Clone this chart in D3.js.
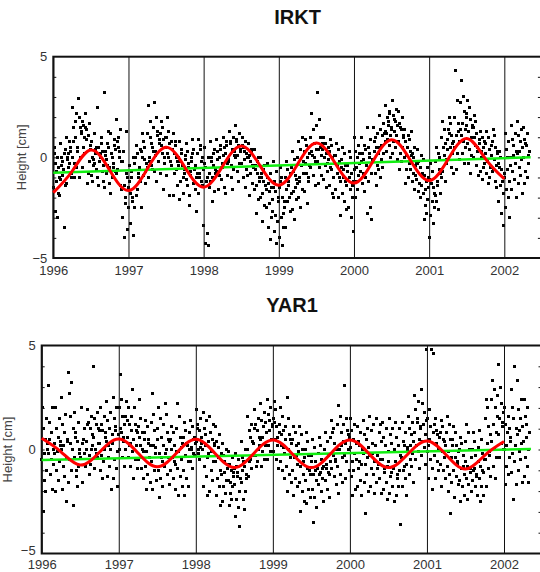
<!DOCTYPE html>
<html>
<head>
<meta charset="utf-8">
<script src="https://cdn.jsdelivr.net/npm/d3@7"></script>
<style>
  body { margin: 0; background: #fff; }
  svg { display: block; }
</style>
</head>
<body>
<div id="chart"></div>
<script>
// daily height residuals, one array per month (values in cm)
const irkt1996 = [
  [-1.5,0.5,0.2,-0.3,-2.7,-1.2,-0.7,-3,0,-1.8,-0.5,-1],
  [-1.9,0.7,-1.1,-0.4,0,-0.2,-0.9,-0.6,0.2,-3.5,0.4,-1.4],
  [-1.3,1,-0.1,0,-0.5,0.2,-0.3,0.8,0.5,0.3,-1,-0.8],
  [0,2.5,0.8,1.5,-1,-0.3,1,1.8,2.2,-0.5,0.3,0.5,2.9],
  [2.9,2,-1,1.5,0,1.3,1.2,-0.5,1.8,0.5,1.6,1],
  [0.2,2.2,1.5,1.4,0.9,-1.3,1.1,-0.8,1.7,-0.2,0.4,0.6],
  [-0.9,0.8,-1.2,0,-0.1,-0.4,-0.3,1.2,0.4,0.2,0.5,-0.6],
  [-1,2.5,-1.4,0.5,-0.2,0.2,0,0.7,1,0.3,-0.7,-0.4],
  [-1.2,3.2,-1.5,0.3,0.1,-0.8,-0.1,-0.4,0.7,1.3,0.5,-0.5],
  [-1.3,1.2,-1.8,0.2,0,-1,-0.3,-0.5,0.6,0.9,0.4,-0.7],
  [-0.8,1.9,-0.6,0.8,1,0.5,0.3,0,1.4,-1.4,-1.6,-0.2],
  [-3,-0.2,0.3,-1.4,-4,-2.3,-2,1.3,-0.8,-3.6,-1,-2.5]
]
const irkt1997 = [
  [-1.5,-1.2,-0.4,-1.8,-3.3,-1,-0.7,-2,-2.2,-3.9,0,-2.5],
  [-0.3,0,0.6,-1.9,-1.6,0.2,-1,-0.8,-0.6,-0.5,0.4,-1.2],
  [0.3,-2.5,1.2,0,-0.9,0.8,0.5,-0.1,-0.7,-1.3,-0.3,-0.5],
  [1.2,-1,2.6,0,-0.2,1.8,1,0.7,-0.4,-0.6,0.5,0.3],
  [1.5,-0.7,2.7,0.1,0.3,2,-1.2,1.1,1.3,-0.2,0.9,0.7],
  [1.2,-0.8,1.8,0.6,0.2,1.5,-1.6,0.9,0,-0.3,1,0.5],
  [1,-0.9,2,0.2,0,1.3,-1.9,0.7,-0.2,-0.4,0.8,0.4],
  [0.4,-1.9,1.2,0.2,-0.8,0.8,0.6,0,-0.6,-1.4,-0.2,-0.4],
  [0,-2.1,0.8,-0.2,-1.2,0.4,0.2,-0.4,-1,-1.8,-0.6,-0.8],
  [-0.1,0.1,0.7,-1.1,-1.4,0.3,-0.3,-0.5,-1.9,-2.4,-0.7,-0.9],
  [0,-0.2,0.9,0.2,-1.3,0.4,-0.6,-0.4,-1.6,-2.7,-1,-0.8],
  [0.2,-1.8,0.9,-0.8,-1,0.6,0.4,-0.2,-1.2,-1.4,0,-0.6]
]
const irkt1998 = [
  [-3.4,0.5,-0.3,-0.5,-4.3,-1.2,-1,-3.8,0,-4.4,-0.8,-1.5],
  [-1.2,0.8,-0.2,0,-2.2,-1,-0.4,0.2,0.4,-1.7,-0.6,-0.8],
  [-0.7,0.9,-0.1,0.3,-1.6,-0.9,0,0.4,0.6,-1.1,-0.5,-0.3],
  [-0.5,1,0.1,0.5,-1.5,-1.8,0.2,0.6,0.8,-0.9,-0.3,-0.1],
  [-0.2,1.3,0.8,0.7,-1,-0.4,0.4,-1.6,1,-0.6,0.3,0.1],
  [0,1.6,0.8,0.9,-0.7,0.1,0.6,-1.2,1.2,-0.3,0.4,0.3],
  [-0.3,1,0.6,0.5,-1,-0.1,0.3,-1.5,0.8,-0.6,0.2,0],
  [-0.9,0.7,0,0.1,-1.9,-0.8,-0.2,0.3,0.4,-1.3,-0.4,-0.5],
  [-1.6,0.4,-0.6,-0.4,-2.8,-1.4,-0.8,-0.2,0,-2.1,-1,-1.2],
  [-2,0,-1,-0.8,-3.2,-1.8,-1.2,-0.6,-0.4,-2.4,-1.4,-1.6],
  [-2.5,-0.3,-1,-1.3,-3.5,-2.3,-1.7,-4.1,-0.8,-3,-1.5,-2.1],
  [-2.7,-0.2,-1.5,-1.2,-3.7,-2.9,-1.7,-4.3,-0.7,-3.2,-2,-2.2]
]
const irkt1999 = [
  [-1.5,-4,-0.5,-1.2,-3,-1,-4.4,-2,-2.8,-3.5,-2.2,-2.5],
  [-1,-3.5,-0.2,-1.6,-2.2,-0.6,-1.2,-1.4,-2,-2.7,-0.8,-1.8],
  [-0.5,-2.6,0.3,-0.7,-1.7,-0.1,-3.1,-0.9,-1.5,-2.1,-1.1,-1.3],
  [0,-2,0.8,-1,-1.2,0.4,-2.5,-0.4,1,-1.6,-0.2,-0.8],
  [0.3,-1.7,0.9,-0.3,-0.8,0.6,-2.3,0,-1,-1.2,0.2,-0.4],
  [1,-0.5,2.2,0.3,0.1,1.4,-0.9,0.7,0,-0.2,-1.4,0.4],
  [1.6,-0.2,3.2,-1.3,0.4,1.9,-0.5,1,0.5,0.1,-0.9,0.7],
  [0.4,-1.1,1,0,-0.4,0.7,-1.5,0.2,-0.3,-0.7,0.5,-0.1],
  [0.3,-1.4,0.9,-0.5,-0.6,0.6,-1.8,0,-2,-1,0.1,-0.3],
  [0.1,-1.6,0.7,-0.4,-0.8,0.4,-2,-0.2,-1,-1.2,-2.9,-0.5],
  [-0.1,-1.8,0.5,-0.6,-1,0.2,-2.2,-0.4,-1.2,-1.4,-2.6,-0.7],
  [-0.4,-2.5,0.3,-1,-1.6,0,-3,-0.8,-1.4,-2,-3.7,-1.2]
]
const irkt2000 = [
  [-0.6,1,-2,0.3,-1.2,-0.5,0,-1.6,0.6,-0.9,0.2,-0.3],
  [-0.7,1,-0.2,0.2,-1.3,-0.8,-0.1,-1.7,0.6,-1,0.4,-0.4],
  [-0.4,1.5,-2.8,0.5,-1.2,0,0.2,-2.5,0.9,-0.8,-3.1,-0.1],
  [-0.1,1.5,0.3,0.8,-0.8,1,0.5,-1.4,1.2,-0.4,-0.6,0.2],
  [0.5,2.1,-1,1.4,-0.1,0.6,1.1,-0.5,1.7,0.2,1.2,0.8],
  [1.3,2.6,0.3,1.2,2,0.9,1.6,1.8,0.6,2.2,2.3,1.1,0,1.5],
  [1.4,2.8,0.2,2.1,0.8,1.3,1.9,1.8,0.5,2.4,1.1,-0.1,1.6],
  [0.8,2.3,-0.6,1.7,0.2,1.5,1.4,-0.2,2,0.5,1,1.1],
  [0,1.4,-1.3,0.8,-0.6,0.1,0.5,-1,1.1,-0.3,0.9,0.3],
  [-0.6,1.3,0.1,0.2,-1.2,-0.8,0,-1.6,0.5,-0.9,-0.4,-0.3],
  [-1.1,0.4,-0.3,-0.2,-1.7,-1.3,-0.5,-2,0.1,-1.4,-0.9,-0.8],
  [-1.8,-0.1,-3.1,-0.9,-2.4,-1.6,-1.2,-2.8,-0.5,-2.1,-1,-1.5]
]
const irkt2001 = [
  [-4,-1.1,-2.9,-0.3,-1.3,-2.2,-0.7,-3.3,-1.5,-1.8,-2.5,-1.9],
  [-0.2,-2.2,0.5,-1.2,-1.4,0.2,-2.6,-0.6,0,-1.8,-0.8,-1],
  [1,-0.7,1.8,0.5,0.1,1.4,-1.2,0.7,-0.1,-0.3,0.9,0.4],
  [1.4,-0.1,2,1.2,0.5,1.7,-0.5,1.1,0.7,0.2,-0.8,0.8],
  [2,0.5,4.3,-0.6,1.1,2.8,0.2,1.7,1.3,0.8,-0.1,1.4],
  [2.7,1.1,3.8,0.2,1.7,3,0.8,2.3,-0.3,1.4,0.5,2,1.6],
  [2.2,0.7,2.8,-0.3,1.3,2.5,0.4,1.9,-0.8,1,0.1,1.6,1.5],
  [1.5,0,2.1,1,0.6,1.8,-0.4,1.2,0.5,0.3,-0.9,0.9],
  [0.7,-0.7,1.3,0.3,0,1,-1.1,0.5,-0.5,-0.3,0.8,0.2],
  [0.7,-0.8,1.3,-0.1,-0.2,1,-1.3,0.4,-1,-0.5,0.6,0.1],
  [0.8,-0.7,1.4,-0.6,-0.1,1.1,-1.2,0.5,-1.5,-0.4,0.3,0.2],
  [-0.3,-2.2,0.3,-0.5,-1.4,0,-2.8,-0.6,-1.2,-1.8,-3.4,-1]
]
const irkt2002 = [
  [-0.8,1.2,-2.5,0.4,-1.6,-0.6,0,-2,0.8,-1.2,-3,-0.4],
  [0,1.6,-1.6,0.9,-0.7,0.1,0.6,-1.1,1.2,-0.3,-2,0.3],
  [0.2,1.8,-1.3,1.1,-0.5,0.3,0.8,-0.9,1.4,-0.1,-1.8,0.5],
  [0,1.5,-1.3,0.9,-0.7,0.7,0.6,-1,1.2,-0.3,0.1,0.3]
]

const yar1996 = [
  [-0.5,2,-3,1,-1.5,-0.2,0.5,-2,1.5,-1,0.3,0],
  [-0.2,3.1,0.5,1.3,-1.2,-0.5,0.8,-1.9,2,-0.7,0,0.3],
  [-0.2,2,-2,1,-1,-0.1,0.6,-1.5,1.5,-0.6,0.4,0.2],
  [0,2.5,-1.9,1.2,-0.8,0.2,0.8,-1.3,1.7,-0.4,-2.5,0.4],
  [0.5,3.7,-1.6,2.7,-0.5,0.3,1.6,-1,3.2,0,-2.7,1],
  [-0.4,1.8,0.6,0.8,-1.3,-1,0.4,-1.8,1.3,-0.8,-0.2,0],
  [-0.4,2,0.3,-1.6,0.5,-0.2,1,-0.8,0],
  [0.4,1.9,1.2,1.3,-0.3,-1.2,1,-0.7,1.6,0,0.2,0.7],
  [0.6,4,-0.9,1.5,0,-0.2,1.2,-0.4,1.8,0.3,1,0.9],
  [0.3,2,-1,1.2,-0.3,-1.4,0.9,-0.6,1.6,0,0.8,0.6],
  [0.4,2.3,-1.3,1.4,-0.4,0.2,1,-0.8,1.8,0,-1.9,0.7],
  [0.3,2.5,-1.4,1.5,-0.5,0.9,1.1,-0.9,2,-0.1,-1.8,0.7]
]
const yar1997 = [
  [2,0,3.6,1,0.8,2.4,-0.4,1.6,0.6,0.4,-0.8,1.2],
  [1.6,0,2.3,1.4,0.6,2,-0.4,1.2,0.2,0.3,-0.8,0.9],
  [1.6,-0.1,2.9,-1.4,0.5,2,-0.5,1.2,0.9,0.2,-0.9,0.8],
  [1.1,-0.5,2.4,0.6,0.2,1.5,-0.9,0.8,0,-0.1,-1.4,0.5],
  [0.8,-0.8,1.4,-1.9,-0.1,1.1,-1.2,0.5,0.3,-0.4,-1.6,0.2],
  [1.3,-0.6,2.7,-1.9,0.2,1.7,-1,0.9,0.1,-0.2,-1.5,0.5],
  [1,-1,2,-2.3,-0.2,1.5,-1.4,0.6,-0.4,-0.6,-1.8,0.2],
  [1.2,-0.8,2.2,-0.2,0,1.7,-1.2,0.8,0.5,-0.4,-1.7,0.4],
  [0.5,-1,1.1,0,-0.4,0.8,-1.4,0.2,-0.6,-0.7,-1.9,-0.1],
  [1,-0.9,2.2,-2.2,-0.1,1.6,-1.3,0.6,0.1,-0.5,-1.8,0.3],
  [0.6,-1,1.3,-2.2,-0.3,0.9,-1.4,0.3,0.2,-0.6,-1.8,0],
  [0.8,-0.6,1.4,0.1,0,1.1,-0.9,0.5,-0.2,-0.3,0.6,0.3]
]
const yar1998 = [
  [0.4,1.9,1,1.2,-0.2,0,0.9,-0.5,1.5,0.1,0.3,0.6],
  [0,1.8,-1.8,1,-0.8,0.2,0.7,-1.3,1.4,-0.4,-2.2,0.4],
  [-0.2,1.6,-2,0.8,-1,-0.1,0.5,-1.5,1.2,-0.6,0.3,0.2],
  [-0.6,1.1,-2.2,0.4,-1.4,-0.4,0.1,-1.8,0.7,-1,-2.7,-0.2],
  [-1.2,0.3,-2.5,-0.3,-1.8,-1.1,-0.6,-2.1,0,-1.5,-0.7,-0.9],
  [-1.5,-0.1,-2.7,-0.7,-2.1,-1.6,-1,-2.4,-0.4,-1.8,-1.1,-1.3,-0.9],
  [-1.7,-0.2,-3.2,-0.8,-2.4,-1.3,-1.1,-2.8,-0.5,-2,-3.7,-1.4],
  [-1.6,0.4,-1,-0.4,-2.4,-0.6,-0.8,-2.9,0,-2,-1.4,-1.2],
  [0,1.6,-1.3,0.9,-0.6,-0.5,0.6,-0.9,1.2,-0.3,0.4,0.3],
  [0.3,1.9,1,1.2,-0.3,-0.8,0.9,-0.6,1.5,0,0.2,0.6],
  [0.5,2.2,-0.8,1.4,-0.1,0.6,1.1,-0.5,1.8,0.2,1.3,0.8],
  [0.8,2.4,-0.5,1.7,0.2,0.9,1.4,-0.1,2,0.5,1.2,1.1]
]
const yar1999 = [
  [1.5,-0.1,2.3,1.3,0.5,1.9,-0.5,1.1,0.6,0.2,-0.9,0.8],
  [1.2,-0.6,2,0.7,0.2,1.6,-1,0.9,0.1,-0.2,-1.4,0.5],
  [1.1,-0.8,2.5,-2,0,1.5,-1.2,0.7,0.5,-0.4,-1.6,0.3],
  [0.5,-1,1.1,-2.2,-0.4,0.8,-1.4,0.2,-0.3,-0.7,-1.8,-0.1],
  [0.3,-1.6,1.1,-3,-0.8,0.7,-2,0,-0.6,-1.2,-2.5,-0.4],
  [0,-1.5,0.8,-2.6,-0.9,0.4,-1.9,-0.3,-1,-1.2,-2.3,-0.6],
  [-0.3,-1.9,0.5,-3.5,-1.2,0.1,-2.3,-0.6,-1,-1.5,-2.8,-0.9],
  [-0.2,-1.7,0.6,-1.2,-1.1,0.2,-2,-0.5,-0.9,-1.4,-2.5,-0.8],
  [0,-1.5,0.8,-0.7,-0.9,0.4,-1.9,-0.3,-1.1,-1.2,-2.3,-0.6],
  [0.6,-0.9,1.4,0.8,-0.3,1,-1.3,0.3,-0.5,-0.6,-1.7,0],
  [1.2,-0.8,2.1,-2.1,0,1.6,-1.2,0.8,0.2,-0.4,-1.6,0.4],
  [1.2,-0.3,3.1,-1.4,0.3,1.5,-0.6,0.9,0.7,0,-1,0.6]
]
const yar2000 = [
  [0.1,1.5,-1.3,0.9,-0.6,-2.2,0.5,-1,1.2,-0.2,-1.9,0.3],
  [-0.5,1.1,-1.8,0.4,-0.9,-0.6,0.2,-1.5,0.8,-0.7,-2.2,0],
  [-0.2,1.4,-1.6,0.7,-0.7,-3.1,0.5,-1.2,1,-0.4,-2,0.1],
  [-0.3,1.6,-1.8,0.9,-0.9,-0.2,0.3,-1.2,1.2,-0.6,-2.1,0.2],
  [0.2,1.5,-1.6,-0.3,-0.9,-0.7,0.8,-1.4,1.2,-0.5,-2.1,0.4],
  [-0.5,1.3,-1.9,0.6,-1.1,-0.9,0.2,-1.6,1,-0.8,-2.4,-0.1],
  [-0.6,1.5,-2.1,0.7,-1.3,-1.1,0.3,-1.8,1,-0.9,-2.5,0],
  [-0.6,1.3,-2.2,0.6,-1.4,-1.2,0.2,-1.8,1,-1,-3.6,-0.3],
  [-0.4,1.3,-1.8,0.4,-1,-0.8,0.2,-1.4,0.8,-0.7,-2.2,0],
  [0.1,1.6,-1.2,1,-0.5,0.2,0.7,-0.8,1.3,-0.2,-1.6,0.4],
  [0.8,2.6,-0.5,1.9,0.2,1.3,1.5,-0.1,2.3,0.5,-0.9,1.1],
  [1,2.9,-0.3,2.2,0.4,1.2,1.8,0.1,0.7,-0.7,1.4,4.8]
]
const yar2001 = [
  [1.5,-0.1,0.2,-1.4,0.5,1.9,-0.5,1.1,4.8,-1.9,-0.9,0.8],
  [4.6,1.2,-0.3,1.5,-1.4,0.3,0.9,-0.6,0.7,0,-1,0.6],
  [0.8,-0.7,1.4,-1.8,-0.1,1.1,-1,0.5,0.4,-0.4,-1.4,0.2],
  [0.8,-0.8,1.6,-2,-0.1,1.2,-1.2,0.5,-3.1,-0.4,-1.6,0.2],
  [0.5,-1,1.1,-2.3,-0.4,0.8,-1.3,0.2,-0.6,-0.7,-1.7,-0.1],
  [0,-1.5,0.6,-2.5,-0.9,0.3,-1.8,-0.3,-0.8,-1.2,-2.2,-0.6],
  [0.4,-1.4,1.2,-2.4,-0.8,0.8,-1.7,0,-0.9,-1.1,-2,-0.4],
  [0,-1.5,0.8,-1,-0.9,0.4,-1.8,-0.3,-1.3,-1.2,-2.2,-0.6],
  [0.1,-1.4,0.9,-2.5,-0.8,0.5,-1.8,-0.2,-1,-1.1,-2.2,-0.5],
  [1.5,-0.5,2.4,-1.8,0.3,2,-0.9,1.1,-0.3,-0.1,-1.3,0.7],
  [2.4,0.4,3.3,-0.8,1.2,2.9,0,2,-1.4,0.8,-0.4,1.6],
  [2.6,0.7,4.1,-0.4,1.5,3,0.3,2.2,1.3,1.1,0,1.8]
]
const yar2002 = [
  [0,2,-1.7,1.2,-0.8,0.2,0.8,-1.2,1.6,-0.4,1,0.4],
  [0.6,2.9,-1.1,2,-0.2,-2.4,1.5,-0.6,4,0.2,-1.7,1],
  [0.7,3.3,-1,1.9,-0.1,0.9,1.5,-0.5,2.4,0.3,-1.6,1.1],
  [0.4,2.4,-1.3,1.6,-0.4,0.6,1.2,-0.8,2,0,-1.6,0.8]
]

// annual fit (red), sampled each quarter year
const fitTimes = [1996,1996.25,1996.5,1996.75,1997,1997.25,1997.5,1997.75,1998,1998.25,1998.5,1998.75,
  1999,1999.25,1999.5,1999.75,2000,2000.25,2000.5,2000.75,2001,2001.25,2001.5,2001.75,2002]
const irktFit = [-1.75,-0.69,0.37,-0.64,-1.65,-0.58,0.5,-0.49,-1.48,-0.45,0.57,-0.41,
  -1.38,-0.34,0.71,-0.29,-1.28,-0.21,0.87,-0.14,-1.15,-0.11,0.94,-0.07,-1.07]
const yarFit = [0.54,-0.11,-0.75,-0.13,0.5,-0.17,-0.83,-0.17,0.49,-0.19,-0.87,-0.2,
  0.46,-0.2,-0.87,-0.2,0.46,-0.21,-0.87,-0.23,0.41,-0.26,-0.94,-0.28,0.38]

// linear trend (green)
const trendTimes = [1996, 2002.35]
const irktTrend = [-0.76, 0]
const yarTrend = [-0.5, 0.02]

const yearTicks = [1996, 1997, 1998, 1999, 2000, 2001, 2002]
const heightTicks = [-5, 0, 5]

const dimensions = { width: 540, height: 572 }
const font = 'Arial, "Liberation Sans", sans-serif'

const svg = d3
  .select('#chart')
  .append('svg')
  .attr('width', dimensions.width)
  .attr('height', dimensions.height)
  .style('font-family', font)

function drawPanel(cfg) {
  const x = d3.scaleLinear().domain([1996, 2002.5]).range([cfg.left, cfg.left + 6.5 * cfg.yearW])
  const y = d3.scaleLinear().domain([-5, 5]).range([cfg.bottom, cfg.top])
  const ctr = svg.append('g')

  // title
  ctr
    .append('text')
    .attr('x', (x.range()[0] + x.range()[1]) / 2)
    .attr('y', cfg.titleY)
    .attr('text-anchor', 'middle')
    .style('font-size', '20px')
    .style('font-weight', 'bold')
    .style('fill', '#111')
    .text(cfg.title)

  // points: each month's values spread over that month
  const points = []
  cfg.years.forEach((months, yi) =>
    months.forEach((vals, mi) =>
      vals.forEach((v, i) => points.push({ t: 1996 + yi + (mi + (i + 0.5) / vals.length) / 12, v }))
    )
  )
  const s = 3
  ctr
    .selectAll('rect.pt')
    .data(points)
    .join('rect')
    .attr('class', 'pt')
    .attr('x', (d) => x(d.t) - s / 2)
    .attr('y', (d) => y(d.v) - s / 2)
    .attr('width', s)
    .attr('height', s)
    .attr('shape-rendering', 'crispEdges')
    .style('fill', '#000')

  // year lines + labels
  const xAxis = d3
    .axisBottom(x)
    .tickValues(yearTicks)
    .tickSize(-(cfg.bottom - cfg.top))
    .tickPadding(cfg.labelPad)
    .tickFormat(d3.format('d'))
  const xg = ctr.append('g').attr('transform', `translate(0,${cfg.bottom})`).call(xAxis)
  xg.select('.domain').remove()
  xg.selectAll('line').style('stroke', '#111').style('stroke-width', 1)
  xg.selectAll('text').style('font-size', '13px').style('fill', '#333').style('font-family', font)

  // y labels
  const yAxis = d3.axisLeft(y).tickValues(heightTicks).tickSize(0).tickPadding(6)
  const yg = ctr.append('g').attr('transform', `translate(${cfg.left},0)`).call(yAxis)
  yg.select('.domain').remove()
  yg.selectAll('text').style('font-size', '13px').style('fill', '#333').style('font-family', font)
  yg.selectAll('text').filter((d) => d === -5).attr('y', -cfg.lowLift)

  // small inward ticks, both sides
  const minor = d3.range(-4, 5)
  const lt = ctr.append('g').attr('transform', `translate(${cfg.left},0)`).call(d3.axisLeft(y).tickValues(minor).tickSize(-3).tickFormat(''))
  const rt = ctr.append('g').attr('transform', `translate(${x.range()[1]},0)`).call(d3.axisRight(y).tickValues(minor).tickSize(-4).tickFormat(''))
  lt.select('.domain').remove()
  rt.select('.domain').remove()
  ctr.selectAll('.tick line').style('stroke', '#111')

  // frame
  ctr
    .append('rect')
    .attr('x', x.range()[0])
    .attr('y', cfg.top)
    .attr('width', x.range()[1] - x.range()[0])
    .attr('height', cfg.bottom - cfg.top)
    .style('fill', 'none')
    .style('stroke', '#111')
    .style('stroke-width', 2)

  // trend
  ctr
    .append('path')
    .datum(trendTimes.map((t, i) => [t, cfg.trend[i]]))
    .attr('d', d3.line().x((d) => x(d[0])).y((d) => y(d[1])))
    .style('fill', 'none')
    .style('stroke', '#11ee11')
    .style('stroke-width', 2.5)

  // annual fit
  ctr
    .append('path')
    .datum(fitTimes.map((t, i) => [t, cfg.fit[i]]))
    .attr('d', d3.line().curve(d3.curveNatural).x((d) => x(d[0])).y((d) => y(d[1])))
    .style('fill', 'none')
    .style('stroke', '#ff0000')
    .style('stroke-width', 3)

  // axis title
  ctr
    .append('text')
    .attr('transform', `translate(${cfg.labelX},${y(0)}) rotate(-90)`)
    .attr('dy', '0.35em')
    .attr('text-anchor', 'middle')
    .style('font-size', '13px')
    .style('fill', '#444')
    .text('Height [cm]')
}

drawPanel({
  title: 'IRKT',
  titleY: 24,
  left: 53.3,
  yearW: 75.17,
  top: 56.7,
  bottom: 258,
  labelX: 21.5,
  labelPad: 8,
  lowLift: 0,
  years: [irkt1996, irkt1997, irkt1998, irkt1999, irkt2000, irkt2001, irkt2002],
  fit: irktFit,
  trend: irktTrend,
})

drawPanel({
  title: 'YAR1',
  titleY: 312,
  left: 41.7,
  yearW: 77.05,
  top: 345.5,
  bottom: 553.5,
  labelX: 7.5,
  labelPad: 6,
  lowLift: 3,
  years: [yar1996, yar1997, yar1998, yar1999, yar2000, yar2001, yar2002],
  fit: yarFit,
  trend: yarTrend,
})
</script>
</body>
</html>
